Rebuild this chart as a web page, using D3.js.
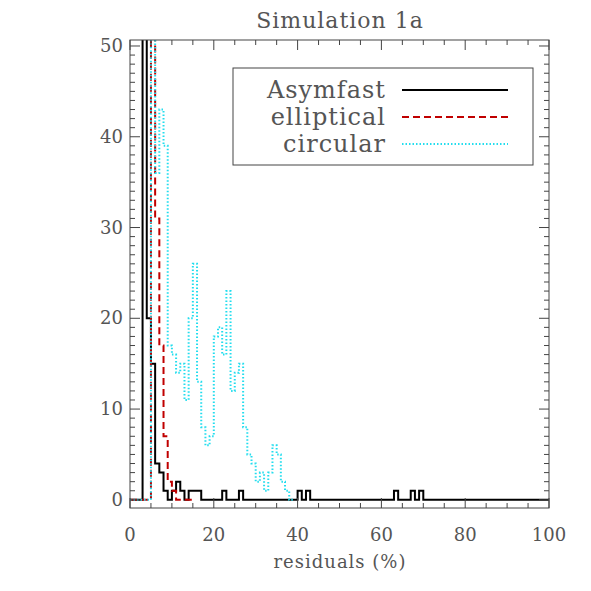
<!DOCTYPE html>
<html><head><meta charset="utf-8">
<script src="https://cdn.jsdelivr.net/npm/d3@7"></script>
<style>body{margin:0;background:#fff}text{font-family:"DejaVu Serif",serif;fill:#555;font-weight:300}</style>
</head><body><svg id="c" width="591" height="591"></svg>
<script>
// histogram counts, 1% bins starting at 0
const asymfast = [0,0,0,55,20,15,4,3,1,0,1,2,1,0,1,1,1,0,0,0,0,0,1,0,0,0,1,0,0,0,0,0,0,0,0,0,0,0,0,0,1,0,1,0,0,0,0,0,0,0,0,0,0,0,0,0,0,0,0,0,0,0,0,1,0,0,0,1,0,1,0,0,0,0,0,0,0,0,0,0,0,0,0,0,0,0,0,0,0,0,0,0,0,0,0,0,0,0,0,0]
const elliptical = [0,0,0,0,0,60,31,17,7,2,1,0,0,0,0]
const circular = [0,0,0,0,0,60,36,43,39,17,16,14,15,11,20,26,13,8,6,7,18,19,16,23,12,14,15,8,5,4,2,3,1,3,6,5,2,1,0]
const xTicks = [0,20,40,60,80,100]
const yTicks = [0,10,20,30,40,50]
const series = [
  {name:'Asymfast', data:asymfast, color:'#000', dash:null, w:2},
  {name:'elliptical', data:elliptical, color:'#c00000', dash:'7,4', w:2},
  {name:'circular', data:circular, color:'#22ddee', dash:'1.5,2', w:2}
]

const svg = d3.select('#c')
const x = d3.scaleLinear().domain([0,100]).range([130,549])
const y = d3.scaleLinear().domain([-0.9,50.66]).range([508,40])

svg.append('defs').append('clipPath').attr('id','clip')
  .append('rect').attr('x',130).attr('y',40).attr('width',419).attr('height',468)

const line = d3.line().x(d => x(d[0])).y(d => y(d[1])).curve(d3.curveStepAfter)
series.forEach(s => {
  const pts = s.data.map((v,i) => [i,v])
  pts.push([s.data.length, s.data[s.data.length-1]])
  svg.append('path').attr('clip-path','url(#clip)')
    .attr('d', line(pts)).attr('fill','none')
    .attr('stroke', s.color).attr('stroke-width', s.w)
    .attr('stroke-dasharray', s.dash)
})

// frame + ticks
const g = svg.append('g').attr('stroke','#444').attr('fill','none')
g.append('rect').attr('x',130).attr('y',40).attr('width',419).attr('height',468)
d3.range(0,101,5).forEach(v => {
  const len = v % 20 === 0 ? 10 : 5
  g.append('line').attr('x1',x(v)).attr('x2',x(v)).attr('y1',508).attr('y2',508-len)
  g.append('line').attr('x1',x(v)).attr('x2',x(v)).attr('y1',40).attr('y2',40+len)
})
d3.range(0,51,1).forEach(v => {
  const len = v % 10 === 0 ? 10 : 5
  g.append('line').attr('x1',130).attr('x2',130+len).attr('y1',y(v)).attr('y2',y(v))
  g.append('line').attr('x1',549).attr('x2',549-len).attr('y1',y(v)).attr('y2',y(v))
})
svg.selectAll('.xt').data(xTicks).join('text')
  .attr('x', d => x(d)).attr('y', 541).attr('text-anchor','middle')
  .attr('font-size',18).text(d => d)
svg.selectAll('.yt').data(yTicks).join('text')
  .attr('x', 123).attr('y', d => y(d)+6).attr('text-anchor','end')
  .attr('font-size',18).text(d => d)
svg.append('text').attr('x',340).attr('y',568).attr('text-anchor','middle')
  .attr('font-size',18).attr('letter-spacing',1).text('residuals (%)')
svg.append('text').attr('x',340).attr('y',28).attr('text-anchor','middle')
  .attr('font-size',22).attr('letter-spacing',1).text('Simulation 1a')

// legend
const lg = svg.append('g')
lg.append('rect').attr('x',233).attr('y',68).attr('width',300).attr('height',97)
  .attr('fill','none').attr('stroke','#444')
series.forEach((s,i) => {
  const yy = 90 + i*27
  lg.append('text').attr('x',386).attr('y',yy+8).attr('text-anchor','end')
    .attr('font-size',24).attr('letter-spacing',1).text(s.name)
  lg.append('line').attr('x1',402).attr('x2',508).attr('y1',yy).attr('y2',yy)
    .attr('stroke',s.color).attr('stroke-width',s.w).attr('stroke-dasharray',s.dash)
})
</script></body></html>
